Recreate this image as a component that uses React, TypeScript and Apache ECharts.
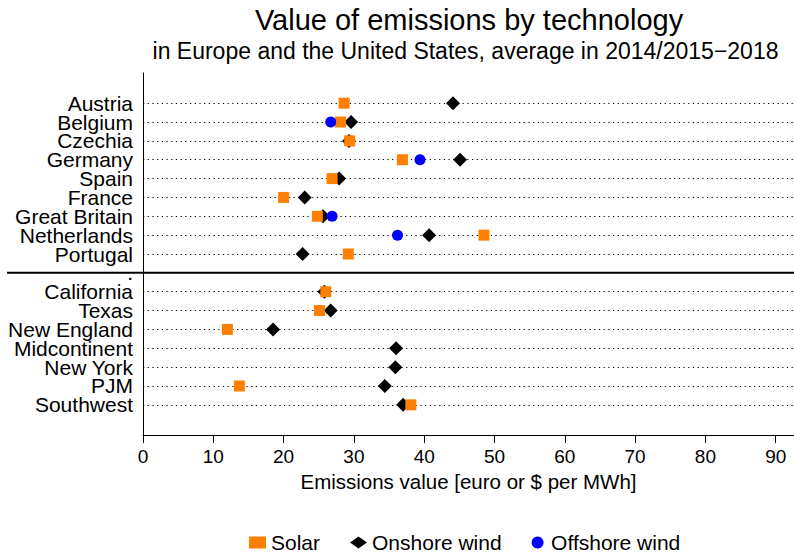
import React, { useEffect, useRef } from "react";
import * as echarts from "echarts";

// Rows from top to bottom; "." marks the gap between the European and US blocks.
const regions = [
  "Austria", "Belgium", "Czechia", "Germany", "Spain", "France", "Great Britain",
  "Netherlands", "Portugal", ".", "California", "Texas", "New England",
  "Midcontinent", "New York", "PJM", "Southwest",
];
const separatorRow = 9;

// Emissions value per technology, euro or $ per MWh (null = no data)
const solar = [28.6, 28.1, 29.4, 36.9, 26.9, 20.0, 24.8, 48.5, 29.2, null, 26.0, 25.1, 12.0, null, null, 13.7, 38.1];
const onshoreWind = [44.1, 29.6, 29.3, 45.1, 27.9, 23.0, 25.6, 40.7, 22.7, null, 25.8, 26.7, 18.5, 36.0, 35.9, 34.4, 37.0];
const offshoreWind = [null, 26.7, null, 39.4, null, null, 26.9, 36.2, null, null, null, null, null, null, null, null, null];

const xTicks = [0, 10, 20, 30, 40, 50, 60, 70, 80, 90];

const FONT = "'Liberation Sans', Arial, Helvetica, sans-serif";

const toPoints = (vals: (number | null)[]) =>
  vals
    .map((v, i) => (v == null ? null : [v, i]))
    .filter((p) => p !== null) as number[][];

export default function App() {
  const ref = useRef<HTMLDivElement>(null);

  useEffect(() => {
    if (!ref.current) return;
    const chart = echarts.init(ref.current, undefined, { renderer: "svg" });

    const guideRows = regions
      .map((_, i) => i)
      .filter((i) => i !== separatorRow)
      .map((i) => ({ yAxis: i }));

    const titles = [
      {
        type: "text",
        x: 469,
        y: 20,
        style: {
          text: "Value of emissions by technology",
          font: `29px ${FONT}`,
          fill: "#000",
          textAlign: "center",
          textVerticalAlign: "middle",
        },
      },
      {
        type: "text",
        x: 465.5,
        y: 51,
        style: {
          text: "in Europe and the United States, average in 2014/2015\u22122018",
          font: `23px ${FONT}`,
          fill: "#000",
          textAlign: "center",
          textVerticalAlign: "middle",
        },
      },
    ];

    const option: any = {
      animation: false,
      backgroundColor: "#ffffff",
      textStyle: { fontFamily: FONT, color: "#000" },
      graphic: titles,
      grid: { left: 143, right: 0, top: 73, bottom: 118, containLabel: false },
      xAxis: {
        type: "value",
        min: 0,
        max: 92.6,
        interval: 10,
        name: "Emissions value [euro or $ per MWh]",
        nameLocation: "middle",
        nameGap: 32,
        nameTextStyle: { fontSize: 20.5, color: "#000", fontFamily: FONT },
        axisLine: { show: true, onZero: false, lineStyle: { color: "#000", width: 1 } },
        axisTick: {
          show: true,
          length: 8,
          customValues: xTicks,
          lineStyle: { color: "#000", width: 1 },
        },
        axisLabel: {
          fontSize: 19,
          color: "#000",
          fontFamily: FONT,
          margin: 12,
          customValues: xTicks,
        },
        splitLine: { show: false },
      },
      yAxis: {
        type: "value",
        inverse: true,
        min: -1.6,
        max: 17.6,
        interval: 0.2,
        axisLine: { show: true, onZero: false, lineStyle: { color: "#000", width: 1 } },
        axisTick: { show: false },
        splitLine: { show: false },
        axisLabel: {
          fontSize: 21,
          color: "#000",
          fontFamily: FONT,
          margin: 10,
          formatter: (v: number) => {
            const r = Math.round(v);
            if (Math.abs(v - r) > 1e-6 || r < 0 || r >= regions.length) return "";
            return regions[r];
          },
        },
      },
      legend: {
        bottom: -5,
        left: 244,
        itemWidth: 17,
        itemHeight: 12,
        itemGap: 30,
        textStyle: { fontSize: 21, color: "#000", fontFamily: FONT },
        data: ["Solar", "Onshore wind", "Offshore wind"],
      },
      series: [
        {
          name: "Onshore wind",
          type: "scatter",
          symbol: "diamond",
          symbolSize: 14,
          itemStyle: { color: "#000000", opacity: 1 },
          data: toPoints(onshoreWind),
          z: 3,
          markLine: {
            silent: true,
            symbol: ["none", "none"],
            label: { show: false },
            lineStyle: { color: "#000", width: 1, type: [1.2, 3.5] },
            data: guideRows,
            z: 1,
          },
        },
        {
          name: "Solar",
          type: "scatter",
          symbol: "rect",
          symbolSize: 11,
          itemStyle: { color: "#FF7F00", opacity: 1 },
          data: toPoints(solar),
          z: 4,
        },
        {
          name: "Offshore wind",
          type: "scatter",
          symbol: "circle",
          symbolSize: 11,
          itemStyle: { color: "#0000FF", opacity: 1 },
          data: toPoints(offshoreWind),
          z: 5,
        },
      ],
    };

    chart.setOption(option);

    // Solid rule between the European and US blocks, reaching into the label area.
    const sepY = chart.convertToPixel({ yAxisIndex: 0 }, separatorRow) as number;
    chart.setOption({
      graphic: [
        ...titles,
        {
          type: "line",
          shape: { x1: 7, y1: sepY, x2: 794, y2: sepY },
          style: { stroke: "#000", lineWidth: 2 },
          z: 10,
        },
      ],
    });

    return () => chart.dispose();
  }, []);

  return (
    <div
      ref={ref}
      style={{ position: "fixed", left: 0, top: 0, width: 794, height: 553, background: "#fff" }}
    />
  );
}
